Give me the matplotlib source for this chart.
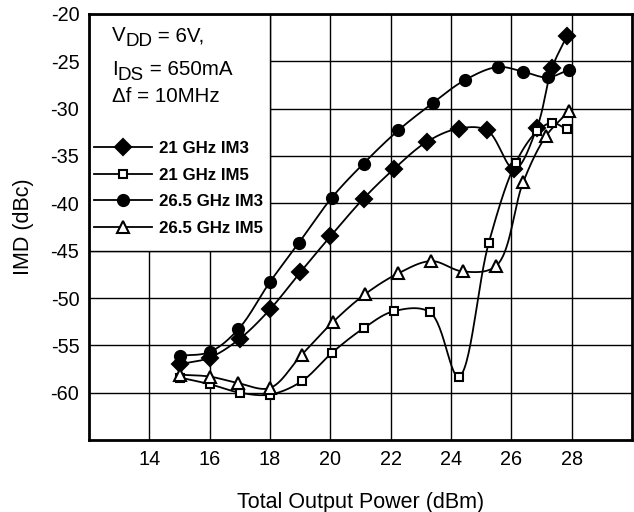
import matplotlib
matplotlib.use("Agg")
import matplotlib.pyplot as plt
from matplotlib.patches import Rectangle
from matplotlib.lines import Line2D
import numpy as np

plt.rcParams['font.family'] = ['Liberation Sans', 'DejaVu Sans']
plt.rcParams['axes.unicode_minus'] = False

# data
x_21_im3 = [15.0, 16.0, 17.0, 18.0, 19.0, 20.0, 21.1, 22.1, 23.2, 24.25, 25.2, 26.1, 26.85, 27.35, 27.85]
y_21_im3 = [-57.0, -56.3, -54.3, -51.2, -47.3, -43.5, -39.5, -36.4, -33.5, -32.1, -32.3, -36.4, -32.0, -25.7, -22.3]

x_21_im5 = [15.0, 16.0, 17.0, 18.0, 19.05, 20.05, 21.1, 22.1, 23.3, 24.25, 25.25, 26.15, 26.85, 27.35, 27.85]
y_21_im5 = [-58.4, -59.1, -60.0, -60.2, -58.8, -55.8, -53.2, -51.4, -51.5, -58.3, -44.2, -35.7, -32.4, -31.5, -32.2]

x_265_im3 = [15.0, 16.0, 16.95, 18.0, 18.95, 20.05, 21.1, 22.25, 23.4, 24.45, 25.55, 26.4, 27.2, 27.9]
y_265_im3 = [-56.1, -55.7, -53.3, -48.3, -44.2, -39.4, -35.8, -32.3, -29.4, -27.0, -25.6, -26.1, -26.7, -25.9]

x_265_im5 = [15.0, 16.0, 16.95, 18.0, 19.05, 20.1, 21.15, 22.25, 23.35, 24.4, 25.5, 26.4, 27.15, 27.9]
y_265_im5 = [-58.1, -58.3, -59.0, -59.5, -56.0, -52.5, -49.6, -47.4, -46.1, -47.2, -46.6, -37.7, -32.9, -30.3]

labels = ["21 GHz IM3", "21 GHz IM5", "26.5 GHz IM3", "26.5 GHz IM5"]
markers = ["D", "s", "o", "^"]
msizes = [8, 6, 8, 9]
faces = ["black", "white", "black", "white"]

xlim = (12, 30)
ylim = (-65, -20)


def smooth(xs, ys, n=30):
    # centripetal catmull-rom, only for drawing the line between the points
    sx, sy = 30.2, 9.46
    p = np.column_stack([np.array(xs) * sx, np.array(ys) * sy])
    p = np.vstack([2 * p[0] - p[1], p, 2 * p[-1] - p[-2]])
    out = []
    for i in range(1, len(p) - 2):
        p0, p1, p2, p3 = p[i - 1], p[i], p[i + 1], p[i + 2]
        t0 = 0.0
        t1 = t0 + np.linalg.norm(p1 - p0) ** 0.5
        t2 = t1 + np.linalg.norm(p2 - p1) ** 0.5
        t3 = t2 + np.linalg.norm(p3 - p2) ** 0.5
        t = np.linspace(t1, t2, n)[:, None]
        a1 = (t1 - t) / (t1 - t0) * p0 + (t - t0) / (t1 - t0) * p1
        a2 = (t2 - t) / (t2 - t1) * p1 + (t - t1) / (t2 - t1) * p2
        a3 = (t3 - t) / (t3 - t2) * p2 + (t - t2) / (t3 - t2) * p3
        b1 = (t2 - t) / (t2 - t0) * a1 + (t - t0) / (t2 - t0) * a2
        b2 = (t3 - t) / (t3 - t1) * a2 + (t - t1) / (t3 - t1) * a3
        c = (t2 - t) / (t2 - t1) * b1 + (t - t1) / (t2 - t1) * b2
        out.append(c)
    out = np.vstack(out)
    return out[:, 0] / sx, out[:, 1] / sy


fig = plt.figure(figsize=(6.34, 5.12), dpi=100)
ax = fig.add_axes([0.1404, 0.1406, 0.8564, 0.8321])

series = [(x_21_im3, y_21_im3), (x_21_im5, y_21_im5), (x_265_im3, y_265_im3), (x_265_im5, y_265_im5)]
handles = []
for (xs, ys), lab, m, ms, fc in zip(series, labels, markers, msizes, faces):
    sx_, sy_ = smooth(xs, ys)
    ax.plot(sx_, sy_, color="black", lw=1.3, zorder=3)
    ax.plot(xs, ys, ls="none", marker=m, ms=ms, mfc=fc, mec="black", mew=1.5, zorder=4)
    handles.append(Line2D([], [], color="black", lw=1.3, marker=m, ms=ms, mfc=fc, mec="black", mew=1.5))

ax.set_xlim(*xlim)
ax.set_ylim(*ylim)
ax.set_xticks(np.arange(14, 29, 2))
ax.set_yticks(np.arange(-60, -19, 5))
ax.set_axisbelow(True)
ax.grid(True, color="black", lw=1.0)
ax.tick_params(length=0, labelsize=14.3, pad=7)
for s in ax.spines.values():
    s.set_linewidth(2.0)

# white box behind the notes and the legend
ax.add_patch(Rectangle((12, -45), 6, 25, facecolor="white", edgecolor="black", lw=1.0, zorder=1))


def sub_text(x, y, main, sub, rest, size=14.8):
    t1 = ax.text(x, y, main, transform=ax.transAxes, fontsize=size, va="bottom")
    t2 = ax.annotate(sub, xy=(1, 0), xycoords=t1, xytext=(0, -3.6), textcoords="offset points",
                     fontsize=size * 0.92, va="bottom")
    ax.annotate(rest, xy=(1, 0), xycoords=t2, xytext=(0, 3.6), textcoords="offset points",
                fontsize=size, va="bottom")


sub_text(0.042, 0.927, "V", "DD", " = 6V,")
sub_text(0.042, 0.848, "I", "DS", " = 650mA")
ax.text(0.042, 0.784, "\u0394f = 10MHz", transform=ax.transAxes, fontsize=14.8, va="bottom")

leg = ax.legend(handles, labels, loc="upper left", bbox_to_anchor=(0.0, 0.713), frameon=False,
                prop={"weight": "bold", "size": 12.2}, handlelength=3.4, handletextpad=0.45,
                labelspacing=0.68, borderpad=0.3, borderaxespad=0.0)
leg.set_zorder(5)

ax.set_xlabel("Total Output Power (dBm)", fontsize=15.5, labelpad=17)
ax.set_ylabel("IMD (dBc)", fontsize=15.5, labelpad=12)

fig.savefig("out.png", dpi=100)
